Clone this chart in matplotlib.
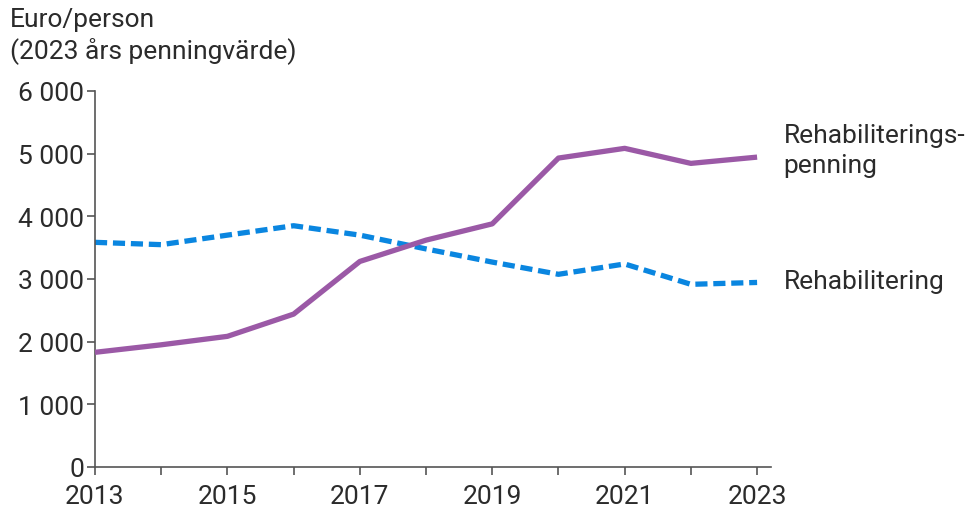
import matplotlib
matplotlib.use("Agg")
import matplotlib.pyplot as plt
from matplotlib.ticker import FuncFormatter

years = [2013, 2014, 2015, 2016, 2017, 2018, 2019, 2020, 2021, 2022, 2023]
rehab_penning = [1830, 1950, 2085, 2440, 3280, 3620, 3880, 4930, 5085, 4845, 4945]
rehabilitering = [3585, 3548, 3700, 3850, 3700, 3480, 3270, 3075, 3240, 2915, 2945]
yticks = [0, 1000, 2000, 3000, 4000, 5000, 6000]
xticks = [2013, 2015, 2017, 2019, 2021, 2023]
xminor = [2014, 2016, 2018, 2020, 2022]

plt.rcParams['font.family'] = ['Roboto', 'DejaVu Sans']
FS = 19
TXT = '#2b2b2b'
AX = '#555555'

fig = plt.figure(figsize=(9.73, 5.10), dpi=100)
ax = fig.add_axes([95/973, 42/510, 676/973, 376/510])

ax.plot(years, rehab_penning, color='#9B59A6', lw=3.8, solid_capstyle='butt', zorder=3)
ax.plot(years, rehabilitering, color='#0A86E0', lw=3.8, dashes=(2.3, 1.1), zorder=2)

ax.set_xlim(2013, 2023.21)
ax.set_ylim(0, 6000)
ax.set_yticks(yticks)
ax.set_xticks(xticks)
ax.set_xticks(xminor, minor=True)
ax.yaxis.set_major_formatter(FuncFormatter(lambda v, p: f"{int(v):,}".replace(",", " ")))

for s in ['top', 'right']:
    ax.spines[s].set_visible(False)
for s in ['left', 'bottom']:
    ax.spines[s].set_color(AX)
    ax.spines[s].set_linewidth(1.2)

ax.tick_params(axis='both', which='both', length=6, width=1.2, color=AX,
               labelsize=FS, labelcolor=TXT)
ax.tick_params(axis='y', pad=2)
ax.tick_params(axis='x', pad=6)

fig.text(10/973, 1 - 8/510, "Euro/person\n(2023 års penningvärde)", ha='left', va='top',
         fontsize=FS, color=TXT, linespacing=1.25)

ax.annotate("Rehabiliterings-\npenning", xy=(2023, rehab_penning[-1]), xytext=(19, 5),
            textcoords='offset points', ha='left', va='center', fontsize=FS, color=TXT,
            linespacing=1.32, annotation_clip=False)
ax.annotate("Rehabilitering", xy=(2023, rehabilitering[-1]), xytext=(19, 1),
            textcoords='offset points', ha='left', va='center', fontsize=FS, color=TXT,
            annotation_clip=False)

fig.savefig("out.png", dpi=100)
